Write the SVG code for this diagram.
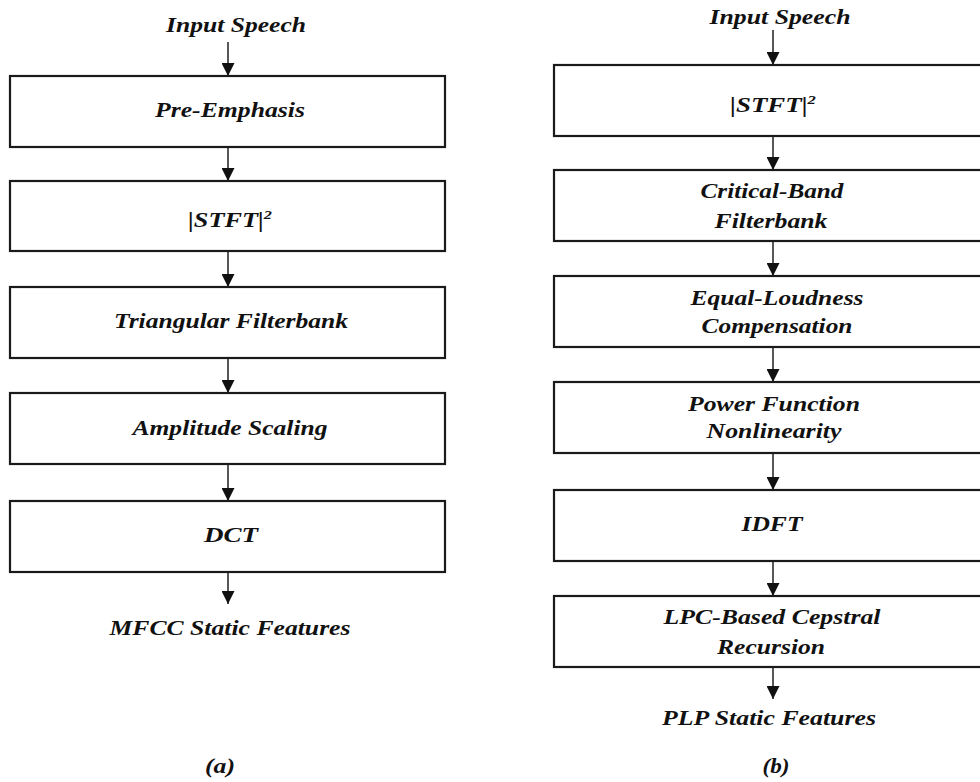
<svg xmlns="http://www.w3.org/2000/svg" width="980" height="782" viewBox="0 0 980 782">
<defs>
<marker id="ah" markerWidth="13" markerHeight="13" refX="13" refY="6.5" orient="auto" markerUnits="userSpaceOnUse">
<path d="M0,0 L13,6.5 L0,13 Z" fill="#111"/>
</marker>
<style>
.box{fill:#fff;stroke:#1a1a1a;stroke-width:2.2}
.t{font-family:"Liberation Serif","Times New Roman",serif;font-weight:bold;font-style:italic;font-size:21px;fill:#111;text-anchor:middle}
.sup{font-size:13px}
.c{stroke:#111;stroke-width:1.4;fill:none;marker-end:url(#ah)}
</style>
</defs>
<rect width="980" height="782" fill="#fff"/>
<g id="connectors">
<line class="c" x1="228" y1="42" x2="228" y2="76"/>
<line class="c" x1="228" y1="147" x2="228" y2="181"/>
<line class="c" x1="228" y1="251" x2="228" y2="287"/>
<line class="c" x1="228" y1="358" x2="228" y2="393"/>
<line class="c" x1="228" y1="464" x2="228" y2="501"/>
<line class="c" x1="228" y1="572" x2="228" y2="604"/>
<line class="c" x1="773" y1="30" x2="773" y2="65"/>
<line class="c" x1="773" y1="136" x2="773" y2="170"/>
<line class="c" x1="773" y1="241" x2="773" y2="276"/>
<line class="c" x1="773" y1="347" x2="773" y2="382"/>
<line class="c" x1="773" y1="453" x2="773" y2="490"/>
<line class="c" x1="773" y1="561" x2="773" y2="596"/>
<line class="c" x1="773" y1="667" x2="773" y2="699"/>
</g>
<g id="a-input"><text class="t" x="236" y="32" textLength="140" lengthAdjust="spacingAndGlyphs">Input Speech</text></g>
<g id="a-preemphasis"><rect class="box" x="10" y="76" width="435" height="71"/><text class="t" x="230" y="117" textLength="150" lengthAdjust="spacingAndGlyphs">Pre-Emphasis</text></g>
<g id="a-stft"><rect class="box" x="10" y="181" width="435" height="70"/><text class="t" transform="translate(230,227) scale(1.25,1)" x="0" y="0">|STFT|<tspan class="sup" dy="-8">2</tspan></text></g>
<g id="a-triangular"><rect class="box" x="10" y="287" width="435" height="71"/><text class="t" x="231" y="328" textLength="234" lengthAdjust="spacingAndGlyphs">Triangular Filterbank</text></g>
<g id="a-amplitude"><rect class="box" x="10" y="393" width="435" height="71"/><text class="t" x="230" y="435" textLength="195" lengthAdjust="spacingAndGlyphs">Amplitude Scaling</text></g>
<g id="a-dct"><rect class="box" x="10" y="501" width="435" height="71"/><text class="t" x="231" y="542" textLength="54" lengthAdjust="spacingAndGlyphs">DCT</text></g>
<g id="a-output"><text class="t" x="230" y="635" textLength="241" lengthAdjust="spacingAndGlyphs">MFCC Static Features</text></g>
<g id="a-caption"><text class="t" x="220" y="773" textLength="30" lengthAdjust="spacingAndGlyphs">(a)</text></g>
<g id="b-input"><text class="t" x="780" y="24" textLength="141" lengthAdjust="spacingAndGlyphs">Input Speech</text></g>
<g id="b-stft"><rect class="box" x="554" y="65" width="438" height="71"/><text class="t" transform="translate(773,112) scale(1.28,1)" x="0" y="0">|STFT|<tspan class="sup" dy="-8">2</tspan></text></g>
<g id="b-critical"><rect class="box" x="554" y="170" width="438" height="71"/><text class="t" x="772" y="198" textLength="143" lengthAdjust="spacingAndGlyphs">Critical-Band</text><text class="t" x="771" y="228" textLength="113" lengthAdjust="spacingAndGlyphs">Filterbank</text></g>
<g id="b-equal"><rect class="box" x="554" y="276" width="438" height="71"/><text class="t" x="777" y="305" textLength="173" lengthAdjust="spacingAndGlyphs">Equal-Loudness</text><text class="t" x="777" y="333" textLength="151" lengthAdjust="spacingAndGlyphs">Compensation</text></g>
<g id="b-power"><rect class="box" x="554" y="382" width="438" height="71"/><text class="t" x="774" y="411" textLength="172" lengthAdjust="spacingAndGlyphs">Power Function</text><text class="t" x="774" y="438" textLength="135" lengthAdjust="spacingAndGlyphs">Nonlinearity</text></g>
<g id="b-idft"><rect class="box" x="554" y="490" width="438" height="71"/><text class="t" x="772" y="531" textLength="61" lengthAdjust="spacingAndGlyphs">IDFT</text></g>
<g id="b-lpc"><rect class="box" x="554" y="596" width="438" height="71"/><text class="t" x="772" y="624" textLength="217" lengthAdjust="spacingAndGlyphs">LPC-Based Cepstral</text><text class="t" x="771" y="654" textLength="108" lengthAdjust="spacingAndGlyphs">Recursion</text></g>
<g id="b-output"><text class="t" x="769" y="725" textLength="214" lengthAdjust="spacingAndGlyphs">PLP Static Features</text></g>
<g id="b-caption"><text class="t" x="776" y="773" textLength="27" lengthAdjust="spacingAndGlyphs">(b)</text></g>
</svg>
